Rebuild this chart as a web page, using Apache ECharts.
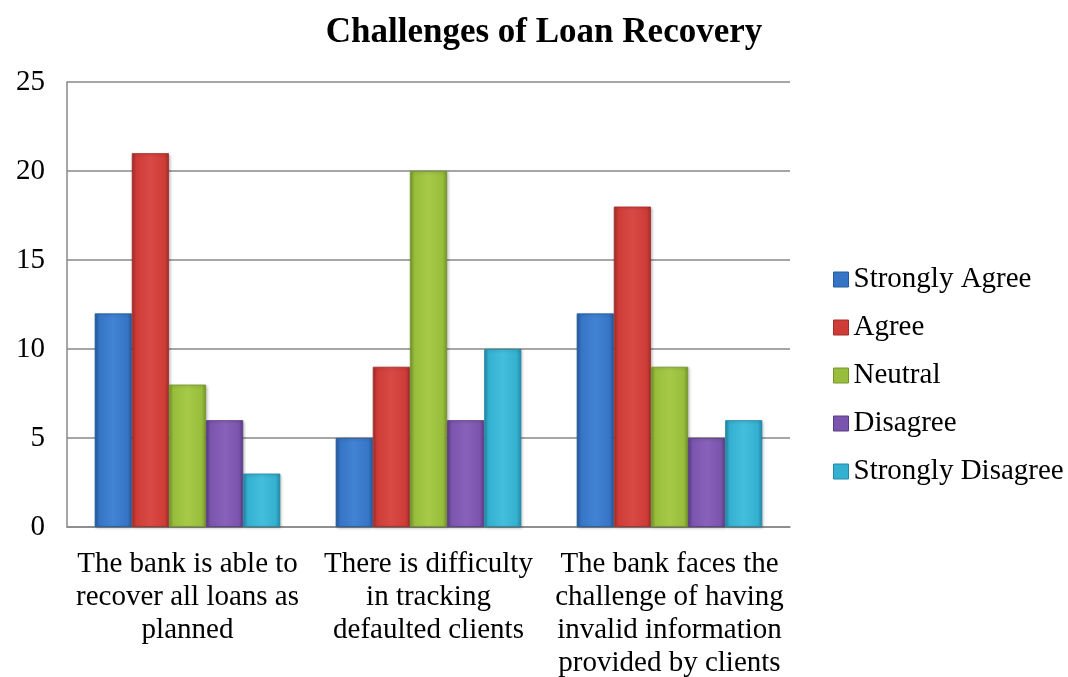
<!DOCTYPE html>
<html>
<head>
<meta charset="utf-8">
<script src="https://cdn.jsdelivr.net/npm/echarts@6/dist/echarts.min.js"></script>
<style>
html,body{margin:0;padding:0;background:#fff;}
#chart{width:1068px;height:677px;}
</style>
</head>
<body>
<div id="chart"></div>
<script>
// Survey responses on loan recovery challenges
const categories = [
  'The bank is able to\nrecover all loans as\nplanned',
  'There is difficulty\nin tracking\ndefaulted clients',
  'The bank faces the\nchallenge of having\ninvalid information\nprovided by clients'
];
const seriesNames = ['Strongly Agree', 'Agree', 'Neutral', 'Disagree', 'Strongly Disagree'];
const stronglyAgree = [12, 5, 12];
const agree = [21, 9, 18];
const neutral = [8, 20, 9];
const disagree = [6, 6, 5];
const stronglyDisagree = [3, 10, 6];
const yTicks = [0, 5, 10, 15, 20, 25];

const seriesData = [stronglyAgree, agree, neutral, disagree, stronglyDisagree];
// [edge, mid, highlight] shades per series
const palette = [
  ['#265a9e', '#3675c6', '#4283d4'],
  ['#a22d2a', '#cf3c37', '#d84a45'],
  ['#76962a', '#98bd3c', '#a6ca48'],
  ['#5a3c84', '#7b55ad', '#8862ba'],
  ['#228aa6', '#34b0d0', '#44bedc']
];

function barFill(c) {
  return new echarts.graphic.LinearGradient(0, 0, 1, 0, [
    { offset: 0, color: c[0] },
    { offset: 0.12, color: c[1] },
    { offset: 0.5, color: c[2] },
    { offset: 0.88, color: c[1] },
    { offset: 1, color: c[0] }
  ]);
}

const serif = '"Liberation Serif", "DejaVu Serif", serif';
const chart = echarts.init(document.getElementById('chart'));
chart.setOption({
  animation: false,
  title: {
    text: 'Challenges of Loan Recovery',
    left: 539,
    textAlign: 'center',
    top: 10,
    textStyle: { fontFamily: serif, fontWeight: 'bold', fontSize: 35, color: '#000' }
  },
  legend: {
    orient: 'vertical',
    left: 828,
    top: 260,
    itemWidth: 15,
    itemHeight: 15,
    itemGap: 19,
    icon: 'rect',
    textStyle: { fontFamily: serif, fontSize: 29, color: '#000' },
    data: seriesNames.map((n, i) => ({ name: n, itemStyle: { color: palette[i][1], borderColor: palette[i][0], borderWidth: 1 } }))
  },
  grid: { left: 67, right: 278, top: 82, bottom: 150, outerBoundsMode: 'none' },
  xAxis: {
    type: 'category',
    data: categories,
    axisLine: { show: true, lineStyle: { color: '#888', width: 1.5 } },
    axisTick: { show: false },
    axisLabel: {
      interval: 0,
      fontFamily: serif,
      fontSize: 29,
      color: '#000',
      lineHeight: 33,
      margin: 21
    }
  },
  yAxis: {
    type: 'value',
    min: yTicks[0],
    max: yTicks[yTicks.length - 1],
    interval: 5,
    axisLine: { show: true, lineStyle: { color: '#888', width: 1.5 } },
    axisTick: { show: false },
    splitLine: { lineStyle: { color: '#888', width: 1.5 } },
    axisLabel: { fontFamily: serif, fontSize: 29, color: '#000', margin: 22 }
  },
  series: seriesNames.map((n, i) => ({
    name: n,
    type: 'bar',
    data: seriesData[i],
    barGap: '0%',
    barCategoryGap: '23%',
    itemStyle: {
      color: barFill(palette[i]),
      borderColor: palette[i][0],
      borderWidth: 0.8,
      shadowColor: 'rgba(0,0,0,0.25)',
      shadowBlur: 3,
      shadowOffsetX: 1,
      shadowOffsetY: 1
    }
  }))
});
</script>
</body>
</html>
